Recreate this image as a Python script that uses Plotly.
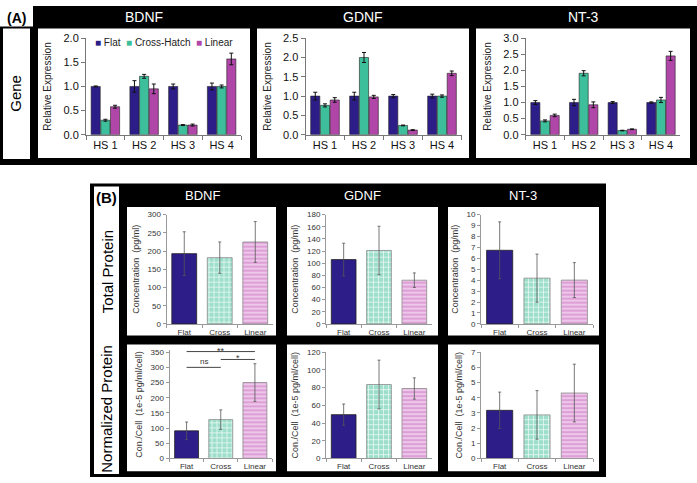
import plotly.graph_objects as go

W, H = 697, 483
def px(x): return x / W
def py(y): return 1 - y / H

# ---------------- data ----------------
genes = ["BDNF", "GDNF", "NT-3"]
hs_sites = ["HS 1", "HS 2", "HS 3", "HS 4"]
groups_a = ["Flat", "Cross-Hatch", "Linear"]
groups_b = ["Flat", "Cross", "Linear"]

# (A) relative gene expression, per gene: [Flat, Cross-Hatch, Linear] x [HS1..HS4]
bdnf_expr = [[1.00, 1.00, 1.00, 1.00], [0.30, 1.21, 0.20, 1.00], [0.58, 0.95, 0.20, 1.57]]
bdnf_expr_err = [[0.01, 0.12, 0.05, 0.07], [0.02, 0.04, 0.01, 0.03], [0.03, 0.10, 0.02, 0.12]]
gdnf_expr = [[1.00, 1.00, 1.00, 1.00], [0.76, 2.00, 0.24, 1.00], [0.90, 0.98, 0.12, 1.59]]
gdnf_expr_err = [[0.10, 0.10, 0.04, 0.05], [0.04, 0.13, 0.01, 0.03], [0.06, 0.04, 0.01, 0.06]]
nt3_expr = [[1.00, 1.00, 1.00, 1.00], [0.43, 1.91, 0.13, 1.08], [0.60, 0.93, 0.17, 2.45]]
nt3_expr_err = [[0.06, 0.10, 0.03, 0.02], [0.03, 0.08, 0.01, 0.08], [0.04, 0.09, 0.01, 0.14]]
expr_max = [2.0, 2.5, 3.0]

# (B) total protein (pg/ml)
total_bdnf = [193, 182, 225]
total_bdnf_err = [60, 43, 56]
total_gdnf = [106, 121, 72]
total_gdnf_err = [27, 40, 12]
total_nt3 = [6.74, 4.19, 4.01]
total_nt3_err = [2.6, 2.2, 1.6]
total_max = [300, 180, 10]
total_dtick = [50, 20, 1]

# (B) normalized protein (1e-5 pg/ml/cell)
norm_bdnf = [91, 128, 250]
norm_bdnf_err = [29, 32, 62]
norm_gdnf = [49.5, 83.5, 79]
norm_gdnf_err = [12, 27.5, 12]
norm_nt3 = [3.17, 2.87, 4.31]
norm_nt3_err = [1.2, 1.6, 1.9]
norm_max = [350, 120, 7]
norm_dtick = [50, 20, 1]

# significance brackets on normalized BDNF: (from, to, y, label)
sig_brackets = [(0, 1, 300, "ns"), (1, 2, 326, "*"), (0, 2, 352, "**")]

# ---------------- styles ----------------
c_flat = "#2c1d88"
c_cross = "#3dbf9c"
c_linear = "#b046a8"
c_cross_light = "#9ddfca"
c_linear_light = "#de9fd6"
FONT = "Liberation Sans, Arial, sans-serif"

fig = go.Figure()
shapes = []
annotations = []

def rect(x0, y0, x1, y1, color, layer="below"):
    shapes.append(dict(type="rect", xref="paper", yref="paper",
                       x0=px(x0), x1=px(x1), y0=py(y1), y1=py(y0),
                       fillcolor=color, line=dict(width=0), layer=layer))

def text(x, y, s, size, color="black", bold=False, angle=0, xanchor="center"):
    annotations.append(dict(xref="paper", yref="paper", x=px(x), y=py(y),
                            text=("<b>%s</b>" % s) if bold else s, showarrow=False,
                            font=dict(size=size, color=color, family=FONT),
                            textangle=angle, xanchor=xanchor, yanchor="middle"))

# ---------- frames ----------
rect(0, 0, 697, 163, "black")
rect(0, 0, 33, 21, "white")
rect(3, 23, 30, 157, "white")
for x0, x1 in [(38, 250), (257, 469), (476, 690)]:
    rect(x0, 23, x1, 156, "white")

rect(90, 182, 606, 483, "black")
rect(94, 185, 119, 480, "white")
for x0, x1 in [(127, 276), (287, 438), (448, 599)]:
    rect(x0, 206, x1, 338, "white")
    rect(x0, 347, x1, 477, "white")

# ---------- labels ----------
text(16, 12, "(A)", 14, bold=True)
text(16, 90, "Gene", 15, angle=-90)
for g, cx in zip(genes, [144, 363, 583]):
    text(cx, 11, g, 14, color="white")
text(107, 196, "(B)", 15, bold=True)
text(107, 272, "Total Protein", 15, angle=-90)
text(107, 413, "Normalized Protein", 15, angle=-90)
for g, cx in zip(genes, [202, 362, 523]):
    text(cx, 194, g, 13, color="white")

legend_txt = ("<span style='color:%s'>■</span>&nbsp;Flat&nbsp;&nbsp;"
              "<span style='color:%s'>■</span>&nbsp;Cross-Hatch&nbsp;&nbsp;"
              "<span style='color:%s'>■</span>&nbsp;Linear") % (c_flat, c_cross, c_linear)
text(93, 37, legend_txt, 10, color="#222", xanchor="left")

layout_axes = {}

# ---------- (A) gene expression ----------
a_xdoms = [(86, 241), (305.5, 461.5), (525.7, 680.3)]
a_data = [(bdnf_expr, bdnf_expr_err), (gdnf_expr, gdnf_expr_err), (nt3_expr, nt3_expr_err)]
a_colors = [c_flat, c_cross, c_linear]
for i, ((vals, errs), (x0, x1)) in enumerate(zip(a_data, a_xdoms)):
    n = i + 1
    for gname, v, e, col in zip(groups_a, vals, errs, a_colors):
        fig.add_trace(go.Bar(x=hs_sites, y=v, name=gname, marker_color=col,
                             marker_line=dict(color="#222", width=0.6),
                             error_y=dict(type="data", array=e, color="#111", thickness=1, width=2),
                             xaxis="x%d" % n, yaxis="y%d" % n, showlegend=False))
    layout_axes["xaxis%d" % n] = dict(domain=[px(x0), px(x1)], anchor="y%d" % n,
                                      type="category", showline=True, linecolor="#777",
                                      ticks="outside", tickson="boundaries", ticklen=4,
                                      tickcolor="#777", showgrid=False,
                                      tickfont=dict(size=11, color="#111", family=FONT))
    layout_axes["yaxis%d" % n] = dict(domain=[py(132), py(33)], anchor="x%d" % n,
                                      range=[0, expr_max[i]], dtick=0.5, tickformat=".1f",
                                      showline=True, linecolor="#777", ticks="outside",
                                      ticklen=4, tickcolor="#777", showgrid=False, zeroline=False,
                                      tickfont=dict(size=11, color="#111", family=FONT),
                                      title=dict(text="Relative Expression", standoff=9,
                                                 font=dict(size=10, color="#222", family=FONT)))

# ---------- (B) protein ----------
b_styles = [
    dict(color=c_flat, line=dict(color="#222", width=0.8)),
    dict(color=c_cross_light, line=dict(color="#8a8a8a", width=0.8),
         pattern=dict(shape="+", fgcolor="white", bgcolor=c_cross_light, fgopacity=0.8,
                      size=5, solidity=0.28, fillmode="replace")),
    dict(color=c_linear_light, line=dict(color="#8a8a8a", width=0.8),
         pattern=dict(shape="-", fgcolor="#f2d2ee", bgcolor=c_linear_light,
                      size=4, solidity=0.4, fillmode="replace")),
]

rows = [
    dict(data=[(total_bdnf, total_bdnf_err), (total_gdnf, total_gdnf_err), (total_nt3, total_nt3_err)],
         maxs=total_max, dticks=total_dtick, title="Concentration  (pg/ml)",
         xdoms=[(166.5, 273), (326, 432), (481, 593)], ydom=(214, 326)),
    dict(data=[(norm_bdnf, norm_bdnf_err), (norm_gdnf, norm_gdnf_err), (norm_nt3, norm_nt3_err)],
         maxs=norm_max, dticks=norm_dtick, title="Con./Cell  (1e-5 pg/ml/cell)",
         xdoms=[(169.5, 272), (326, 432), (481, 593)], ydom=(355, 464)),
]
n = 3
for r, row in enumerate(rows):
    for j, ((vals, errs), (x0, x1)) in enumerate(zip(row["data"], row["xdoms"])):
        n += 1
        for k in range(3):
            fig.add_trace(go.Bar(x=[groups_b[k]], y=[vals[k]], width=0.7, offsetgroup="b",
                                 marker=b_styles[k],
                                 error_y=dict(type="data", array=[errs[k]], color="#555",
                                              thickness=0.8, width=1.5),
                                 xaxis="x%d" % n, yaxis="y%d" % n, showlegend=False))
        ymax = row["maxs"][j]
        y_top, y_bot = row["ydom"]
        rng_top = ymax
        if r == 1 and j == 0:
            rng_top = 356
            y_top = y_bot - (y_bot - y_top) * rng_top / ymax
        layout_axes["xaxis%d" % n] = dict(domain=[px(x0), px(x1)], anchor="y%d" % n,
                                          type="category", categoryorder="array",
                                          categoryarray=groups_b, showline=True, linecolor="#999",
                                          ticks="outside", tickson="boundaries", ticklen=3,
                                          tickcolor="#999", showgrid=False,
                                          tickfont=dict(size=8, color="#333", family=FONT))
        layout_axes["yaxis%d" % n] = dict(domain=[py(y_bot), py(y_top)], anchor="x%d" % n,
                                          range=[0, rng_top], dtick=row["dticks"][j],
                                          showline=True, linecolor="#999", ticks="outside",
                                          ticklen=3, tickcolor="#999", showgrid=False, zeroline=False,
                                          tickfont=dict(size=8, color="#333", family=FONT),
                                          title=dict(text=row["title"], standoff=6,
                                                     font=dict(size=9, color="#333", family=FONT)))

# significance brackets on normalized BDNF (axes x7/y7)
for a, b, yv, lab in sig_brackets:
    shapes.append(dict(type="line", xref="x7", yref="y7", x0=a, x1=b, y0=yv, y1=yv,
                       line=dict(color="#444", width=1), layer="above"))
    star = "*" in lab
    annotations.append(dict(xref="x7", yref="y7", x=(a + b) / 2, y=yv, text=lab,
                            showarrow=False, yanchor="middle" if star else "bottom",
                            yshift=1 if star else -1,
                            font=dict(size=9 if star else 8, color="#333", family=FONT)))

fig.update_layout(width=W, height=H, margin=dict(l=0, r=0, t=0, b=0),
                  paper_bgcolor="white", plot_bgcolor="rgba(0,0,0,0)",
                  barmode="group", bargap=0.25, bargroupgap=0.06,
                  showlegend=False, shapes=shapes, annotations=annotations,
                  font=dict(family=FONT), **layout_axes)

fig.write_html("out.html", config={"displayModeBar": False},
               post_script="document.body.style.margin='0';document.body.style.padding='0';")
